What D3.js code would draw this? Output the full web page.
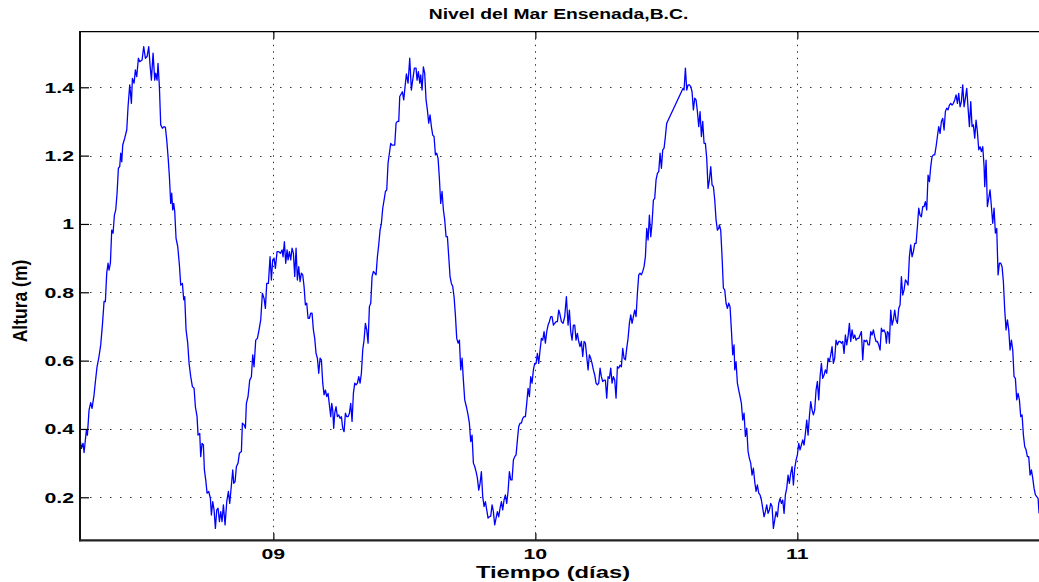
<!DOCTYPE html>
<html><head><meta charset="utf-8">
<script src="https://cdn.jsdelivr.net/npm/d3@7"></script>
<style>
html,body{margin:0;padding:0;background:#fff;overflow:hidden;}
svg{display:block;}
text{font-family:"Liberation Sans",Arial,Helvetica,sans-serif;font-weight:bold;fill:#000;}
</style></head>
<body>
<svg id="chart" width="1039" height="582"></svg>
<script>
// ---- data (day of month, sea level in m) ----
const times1 = [8.2610,8.2673,8.2737,8.2775,8.2864,8.2902,8.2966,8.3029,8.3080,8.3157,
8.3208,8.3271,8.3335,8.3411,8.3475,8.3538,8.3589,8.3640,8.3691,8.3729,
8.3780,8.3831,8.3882,8.3933,8.3984,8.4035,8.4085,8.4136,8.4175,8.4213,
8.4251,8.4327,8.4404,8.4454,8.4518,8.4582,8.4620,8.4684,8.4734,8.4785,
8.4849,8.4900,8.4989,8.5052,8.5116,8.5180,8.5243,8.5294,8.5345,8.5409,
8.5472,8.5510,8.5561,8.5599,8.5650,8.5701,8.5765,8.5828,8.5879,8.5930,
8.5981,8.6032,8.6083,8.6121,8.6159,8.6197,8.6236,8.6286,8.6350,8.6414,
8.6465,8.6528,8.6579,8.6617,8.6668,8.6732,8.6783,8.6846,8.6910,8.6974,
8.7024,8.7088,8.7126,8.7190,8.7228,8.7279,8.7330,8.7368,8.7419,8.7470,
8.7533,8.7597,8.7635,8.7686,8.7737,8.7788,8.7839,8.7890,8.7941,8.7992,
8.8042,8.8093,8.8157,8.8221,8.8284,8.8335,8.8399,8.8450,8.8488,8.8539,
8.8590,8.8653,8.8704];
const levels1 = [0.378,0.343,0.358,0.331,0.397,0.382,0.456,0.477,0.460,0.500,
0.539,0.582,0.607,0.646,0.704,0.773,0.773,0.856,0.885,0.865,
0.885,0.982,0.973,1.026,1.041,1.090,1.163,1.168,1.207,1.182,
1.231,1.251,1.275,1.343,1.407,1.353,1.426,1.412,1.451,1.431,
1.485,1.475,1.480,1.519,1.485,1.490,1.519,1.465,1.421,1.500,
1.421,1.441,1.421,1.470,1.402,1.290,1.280,1.285,1.283,1.246,
1.197,1.139,1.060,1.090,1.041,1.060,1.036,0.958,0.934,0.880,
0.821,0.826,0.778,0.787,0.690,0.651,0.592,0.553,0.524,0.519,
0.465,0.436,0.382,0.387,0.319,0.358,0.353,0.280,0.251,0.212,
0.217,0.197,0.148,0.187,0.163,0.109,0.163,0.168,0.129,0.158,
0.129,0.178,0.119,0.187,0.217,0.182,0.236,0.280,0.241,0.246,
0.290,0.300,0.329];

const times2 = [8.8780,8.8818,8.8882,8.8933,8.8971,8.9034,8.9098,8.9162,8.9213,8.9263,
8.9327,8.9391,8.9454,8.9518,8.9581,8.9645,8.9696,8.9747,8.9811,8.9874,
8.9925,8.9976,9.0027,9.0078,9.0141,9.0205,9.0269,9.0332,9.0370,9.0421,
9.0472,9.0523,9.0561,9.0612,9.0663,9.0714,9.0765,9.0816,9.0867,9.0917,
9.0968,9.1019,9.1070,9.1121,9.1172,9.1223,9.1274,9.1325,9.1376,9.1426,
9.1477,9.1528,9.1579,9.1630,9.1681,9.1732,9.1783,9.1834,9.1885,9.1935,
9.1986,9.2037,9.2088,9.2139,9.2190,9.2228,9.2266,9.2304,9.2343,9.2393,
9.2444,9.2495,9.2546,9.2597,9.2648,9.2699,9.2750,9.2801,9.2852,9.2902,
9.2953,9.3004,9.3055,9.3106,9.3157,9.3208,9.3259,9.3310,9.3360,9.3411,
9.3462,9.3513,9.3564,9.3615,9.3666,9.3717,9.3768,9.3819,9.3869,9.3920,
9.3971,9.4022,9.4073,9.4124,9.4175,9.4226,9.4277,9.4328,9.4378,9.4429,
9.4480,9.4531,9.4582,9.4633,9.4684,9.4735,9.4786,9.4824];
const levels2 = [0.334,0.417,0.412,0.402,0.475,0.495,0.543,0.553,0.617,0.582,
0.660,0.665,0.690,0.719,0.797,0.782,0.753,0.826,0.826,0.904,
0.836,0.895,0.900,0.870,0.919,0.919,0.914,0.924,0.904,0.948,
0.885,0.924,0.895,0.919,0.895,0.929,0.914,0.846,0.929,0.836,
0.875,0.831,0.856,0.851,0.817,0.763,0.768,0.724,0.724,0.739,
0.739,0.690,0.665,0.621,0.607,0.563,0.607,0.602,0.534,0.500,
0.514,0.495,0.504,0.470,0.436,0.475,0.456,0.402,0.446,0.465,
0.436,0.441,0.431,0.436,0.402,0.392,0.446,0.436,0.436,0.446,
0.475,0.422,0.504,0.534,0.529,0.534,0.553,0.534,0.563,0.631,
0.660,0.709,0.690,0.651,0.758,0.768,0.846,0.861,0.856,0.851,
0.904,0.939,0.982,1.002,1.046,1.070,1.095,1.100,1.178,1.207,
1.236,1.231,1.231,1.231,1.295,1.300,1.300,1.373];

const times3 = [9.4925,9.4976,9.5027,9.5078,9.5141,9.5205,9.5268,9.5319,9.5383,9.5447,
9.5485,9.5536,9.5587,9.5625,9.5676,9.5726,9.5777,9.5828,9.5879,9.5930,
9.5981,9.6032,9.6083,9.6134,9.6185,9.6235,9.6286,9.6337,9.6388,9.6439,
9.6490,9.6541,9.6592,9.6643,9.6694,9.6744,9.6795,9.6846,9.6897,9.6948,
9.6999,9.7050,9.7101,9.7152,9.7203,9.7253,9.7304,9.7368,9.7431,9.7482,
9.7533,9.7584,9.7635,9.7686,9.7737,9.7788,9.7839,9.7890,9.7940,9.7991,
9.8042,9.8093,9.8144,9.8195,9.8246,9.8297,9.8348,9.8398,9.8449,9.8500,
9.8551,9.8602,9.8653,9.8704,9.8754,9.8805,9.8856,9.8907,9.8958,9.9009,
9.9060,9.9111,9.9162,9.9213,9.9264,9.9315,9.9365,9.9416,9.9467,9.9518,
9.9569,9.9620,9.9671,9.9722,9.9773,9.9823,9.9874,9.9925,9.9976,10.0027,
10.0078,10.0129,10.0180,10.0231,10.0282,10.0332,10.0383,10.0434,10.0485,10.0536,
10.0587,10.0638,10.0689,10.0740,10.0790,10.0841,10.0892];
const levels3 = [1.387,1.363,1.402,1.439,1.412,1.485,1.392,1.421,1.456,1.456,
1.421,1.446,1.412,1.436,1.392,1.460,1.441,1.363,1.334,1.295,
1.319,1.285,1.260,1.256,1.202,1.207,1.192,1.134,1.060,1.095,
1.041,1.012,0.963,0.963,0.904,0.846,0.826,0.817,0.787,0.734,
0.665,0.651,0.660,0.573,0.607,0.543,0.485,0.465,0.441,0.417,
0.363,0.382,0.300,0.290,0.275,0.256,0.221,0.241,0.275,0.202,
0.173,0.187,0.163,0.139,0.143,0.145,0.178,0.158,0.119,0.139,
0.158,0.143,0.168,0.187,0.163,0.192,0.207,0.182,0.217,0.275,
0.251,0.251,0.309,0.319,0.324,0.368,0.407,0.417,0.417,0.431,
0.436,0.436,0.475,0.519,0.495,0.553,0.534,0.573,0.592,0.592,
0.621,0.592,0.631,0.665,0.660,0.685,0.651,0.685,0.704,0.714,
0.729,0.729,0.704,0.709,0.714,0.714,0.748];

const times4 = [10.0930,10.0994,10.1057,10.1121,10.1185,10.1248,10.1299,10.1350,10.1401,10.1452,
10.1503,10.1553,10.1604,10.1655,10.1706,10.1757,10.1808,10.1859,10.1910,10.1961,
10.2012,10.2062,10.2113,10.2164,10.2215,10.2266,10.2317,10.2368,10.2419,10.2470,
10.2520,10.2571,10.2622,10.2673,10.2724,10.2775,10.2826,10.2877,10.2928,10.2979,
10.3029,10.3080,10.3131,10.3182,10.3233,10.3284,10.3335,10.3386,10.3437,10.3487,
10.3538,10.3589,10.3640,10.3691,10.3742,10.3793,10.3844,10.3895,10.3946,10.3996,
10.4047,10.4098,10.4149,10.4200,10.4251,10.4302,10.4353,10.4404,10.4454,10.4505,
10.4556,10.4607,10.4658,10.4709,10.4760,10.4811,10.4862,10.4913,10.4963,10.5014,
10.5638,10.5676,10.5727,10.5778,10.5829,10.5880,10.5931,10.5981,10.6032,10.6083,
10.6134,10.6185,10.6236,10.6287,10.6338,10.6389,10.6439,10.6490,10.6541,10.6592,
10.6643,10.6694,10.6745,10.6796,10.6847,10.6897,10.6948,10.6999];
const levels4 = [0.739,0.714,0.709,0.729,0.787,0.704,0.748,0.685,0.660,0.704,
0.704,0.660,0.680,0.656,0.641,0.656,0.612,0.656,0.651,0.612,
0.573,0.617,0.607,0.592,0.573,0.558,0.534,0.529,0.534,0.578,
0.553,0.539,0.543,0.543,0.490,0.553,0.548,0.578,0.534,0.553,
0.543,0.490,0.582,0.578,0.587,0.582,0.636,0.607,0.602,0.636,
0.665,0.709,0.734,0.709,0.729,0.748,0.729,0.797,0.851,0.856,
0.851,0.861,0.875,0.904,0.987,0.953,1.026,0.963,1.002,1.070,
1.075,1.129,1.148,1.153,1.207,1.163,1.217,1.222,1.256,1.295,
1.397,1.392,1.456,1.392,1.407,1.407,1.402,1.387,1.334,1.368,
1.363,1.329,1.285,1.329,1.256,1.300,1.236,1.236,1.192,1.104,
1.129,1.168,1.114,1.109,1.070,1.012,0.982,0.987];

const times5 = [10.7024,10.7075,10.7126,10.7177,10.7228,10.7279,10.7330,10.7380,10.7431,10.7482,
10.7533,10.7584,10.7610,10.7660,10.7711,10.7762,10.7813,10.7864,10.7915,10.7966,
10.8017,10.8068,10.8119,10.8169,10.8220,10.8271,10.8322,10.8373,10.8424,10.8475,
10.8526,10.8576,10.8627,10.8678,10.8729,10.8780,10.8831,10.8882,10.8933,10.8984,
10.9035,10.9085,10.9136,10.9187,10.9238,10.9289,10.9340,10.9391,10.9442,10.9493,
10.9543,10.9594,10.9645,10.9696,10.9747,10.9798,10.9849,10.9900,10.9951,11.0001,
11.0052,11.0103,11.0154,11.0205,11.0256,11.0307,11.0358,11.0409,11.0459,11.0510,
11.0561,11.0612,11.0663,11.0714,11.0765,11.0816,11.0867,11.0918,11.0968,11.1019,
11.1070,11.1121,11.1172,11.1223,11.1274,11.1325,11.1375,11.1426,11.1477,11.1528,
11.1579,11.1630,11.1681,11.1732,11.1783,11.1834,11.1884,11.1935,11.1986,11.2037,
11.2088,11.2139,11.2190,11.2241,11.2292,11.2342,11.2393,11.2444,11.2495,11.2546,
11.2597,11.2648,11.2699,11.2750,11.2801,11.2851,11.2902,11.2953,11.3004,11.3055,
11.3106,11.3157];
const levels5 = [0.997,0.982,0.904,0.812,0.807,0.768,0.753,0.768,0.758,0.690,
0.617,0.646,0.573,0.597,0.534,0.514,0.495,0.475,0.426,0.446,
0.378,0.402,0.334,0.314,0.300,0.265,0.285,0.246,0.217,0.236,
0.212,0.207,0.192,0.168,0.143,0.158,0.178,0.153,0.163,0.182,
0.173,0.109,0.134,0.158,0.143,0.182,0.197,0.182,0.192,0.153,
0.207,0.226,0.265,0.241,0.270,0.290,0.236,0.285,0.309,0.324,
0.358,0.339,0.353,0.368,0.353,0.387,0.426,0.382,0.436,0.480,
0.456,0.441,0.456,0.514,0.539,0.485,0.553,0.592,0.548,0.558,
0.573,0.563,0.607,0.597,0.617,0.641,0.592,0.607,0.660,0.646,
0.656,0.656,0.651,0.656,0.621,0.675,0.646,0.670,0.709,0.656,
0.690,0.665,0.675,0.660,0.665,0.665,0.675,0.685,0.602,0.660,
0.656,0.660,0.646,0.646,0.685,0.675,0.690,0.670,0.656,0.656,
0.646,0.631];

const times6 = [11.3207,11.3258,11.3309,11.3360,11.3398,11.3436,11.3487,11.3513,11.3564,11.3615,
11.3665,11.3716,11.3767,11.3818,11.3869,11.3920,11.3971,11.4022,11.4073,11.4124,
11.4174,11.4225,11.4276,11.4327,11.4378,11.4429,11.4480,11.4531,11.4582,11.4632,
11.4683,11.4734,11.4785,11.4836,11.4887,11.4938,11.4989,11.5040,11.5091,11.5141,
11.5192,11.5243,11.5294,11.5345,11.5396,11.5447,11.5498,11.5549,11.5600,11.5650,
11.5701,11.5752,11.5803,11.5854,11.5905,11.5956,11.6007,11.6058,11.6109,11.6159,
11.6210,11.6261,11.6312,11.6363,11.6414,11.6465,11.6516,11.6567,11.6618,11.6668,
11.6719,11.6770,11.6821,11.6872,11.6923,11.6974,11.7025,11.7076,11.7127,11.7152,
11.7203,11.7253,11.7304,11.7355,11.7406,11.7457,11.7508,11.7559,11.7610,11.7661,
11.7712,11.7763,11.7813,11.7864,11.7915,11.7966,11.8017,11.8068,11.8119,11.8170,
11.8221,11.8271,11.8322,11.8373,11.8424,11.8475,11.8526,11.8577,11.8628,11.8679,
11.8730,11.8780,11.8831,11.8882,11.8933,11.8984,11.9035,11.9086,11.9137,11.9188,
11.9226];
const levels6 = [0.695,0.685,0.690,0.680,0.651,0.685,0.680,0.651,0.748,0.704,
0.719,0.748,0.719,0.709,0.753,0.763,0.846,0.792,0.807,0.836,
0.831,0.821,0.904,0.939,0.904,0.919,0.943,0.943,0.992,1.046,
1.026,1.021,1.051,1.051,1.065,1.041,1.143,1.124,1.168,1.197,
1.202,1.202,1.226,1.256,1.285,1.265,1.300,1.309,1.275,1.329,
1.339,1.334,1.348,1.353,1.348,1.353,1.363,1.378,1.353,1.382,
1.343,1.358,1.407,1.343,1.368,1.397,1.339,1.285,1.358,1.285,
1.290,1.251,1.304,1.270,1.217,1.226,1.212,1.226,1.168,1.109,
1.187,1.051,1.075,1.100,1.051,1.002,1.046,0.973,0.987,0.851,
0.885,0.885,0.875,0.831,0.748,0.690,0.719,0.690,0.631,0.660,
0.631,0.553,0.548,0.485,0.504,0.485,0.436,0.441,0.382,0.348,
0.339,0.319,0.319,0.265,0.280,0.256,0.226,0.207,0.202,0.197,
0.153];

const xTickValues = [9, 10, 11];
const xTickLabels = ["09", "10", "11"];
const yTickValues = [0.2, 0.4, 0.6, 0.8, 1.0, 1.2, 1.4];
const yTickLabels = ["0.2", "0.4", "0.6", "0.8", "1", "1.2", "1.4"];
const titleText = "Nivel del Mar Ensenada,B.C.";
const xLabelText = "Tiempo (días)";
const yLabelText = "Altura (m)";

// ---- build series ----
const segT = [times1, times2, times3, times4, times5, times6];
const segV = [levels1, levels2, levels3, levels4, levels5, levels6];
const series = [];
segT.forEach((ts, k) => {
  const vs = segV[k];
  const n = Math.min(ts.length, vs.length);
  for (let i = 0; i < n; i++) series.push({t: ts[i], v: vs[i]});
});

// ---- layout ----
const L = 80, T = 31.7, R = 1041, B = 540.3;
const xDomain = [8.262, 8.262 + (R - L) / 262];
const yDomain = [0.0741, 1.5627];

const svg = d3.select("#chart");
const x = d3.scaleLinear().domain(xDomain).range([L, R]);
const y = d3.scaleLinear().domain(yDomain).range([B, T]);

// grid
const grid = svg.append("g");
grid.selectAll("line.h").data(yTickValues).join("line")
  .attr("x1", L).attr("x2", R)
  .attr("y1", d => Math.round(y(d)) + 0.5).attr("y2", d => Math.round(y(d)) + 0.5)
  .attr("stroke", "#333").attr("stroke-width", 1).attr("stroke-dasharray", "1.5,8.5");
grid.selectAll("line.v").data(xTickValues).join("line")
  .attr("y1", T).attr("y2", B)
  .attr("x1", d => Math.round(x(d)) + 0.5).attr("x2", d => Math.round(x(d)) + 0.5)
  .attr("stroke", "#333").attr("stroke-width", 1).attr("stroke-dasharray", "1.5,5");

// data line
svg.append("defs").append("clipPath").attr("id", "clip")
  .append("rect").attr("x", L).attr("y", T).attr("width", R - L).attr("height", B - T);
const line = d3.line().x(d => x(d.t)).y(d => y(d.v));
svg.append("path").datum(series)
  .attr("clip-path", "url(#clip)")
  .attr("fill", "none").attr("stroke", "#0000ff").attr("stroke-width", 1.3)
  .attr("stroke-linejoin", "round").attr("d", line);

// axes (inward ticks)
const axL = svg.append("g").attr("transform", `translate(${L},0)`)
  .call(d3.axisLeft(y).tickValues(yTickValues).tickSize(-9).tickFormat(""));
const axB = svg.append("g").attr("transform", `translate(0,${B})`)
  .call(d3.axisBottom(x).tickValues(xTickValues).tickSize(-7).tickFormat(""));
const axT = svg.append("g").attr("transform", `translate(0,${T})`)
  .call(d3.axisTop(x).tickValues(xTickValues).tickSize(-7).tickFormat(""));
[axL, axB, axT].forEach(g => {
  g.selectAll(".tick line").attr("stroke", "#000").attr("stroke-width", 1.2);
  g.select(".domain").attr("stroke", "none");
});
// frame
svg.append("line").attr("x1", L).attr("x2", R).attr("y1", T).attr("y2", T)
  .attr("stroke", "#000").attr("stroke-width", 1.3);
svg.append("line").attr("x1", L).attr("x2", L).attr("y1", T - 0.6).attr("y2", B + 1)
  .attr("stroke", "#111").attr("stroke-width", 2);
svg.append("line").attr("x1", L - 1).attr("x2", R).attr("y1", B).attr("y2", B)
  .attr("stroke", "#222").attr("stroke-width", 2.2);

// tick labels (stretched horizontally like the source)
const SX = 1.4;
svg.append("g").selectAll("text").data(yTickValues).join("text")
  .attr("transform", d => `translate(74,${y(d) + 5.4}) scale(${SX},1)`)
  .attr("text-anchor", "end").attr("font-size", 15.2)
  .text((d, i) => yTickLabels[i]);
svg.append("g").selectAll("text").data(xTickValues).join("text")
  .attr("transform", d => `translate(${x(d)},559) scale(${SX},1)`)
  .attr("text-anchor", "middle").attr("font-size", 15.2)
  .text((d, i) => xTickLabels[i]);

// title and axis labels
svg.append("text").attr("transform", `translate(558.5,19) scale(1.4,1)`)
  .attr("text-anchor", "middle").attr("font-size", 13.8).text(titleText);
svg.append("text").attr("transform", `translate(553,578) scale(1.4,1)`)
  .attr("text-anchor", "middle").attr("font-size", 17).text(xLabelText);
svg.append("text").attr("transform", `translate(27,301) rotate(-90) scale(1,1.2)`)
  .attr("text-anchor", "middle").attr("font-size", 17.5).text(yLabelText);
</script>
</body></html>
